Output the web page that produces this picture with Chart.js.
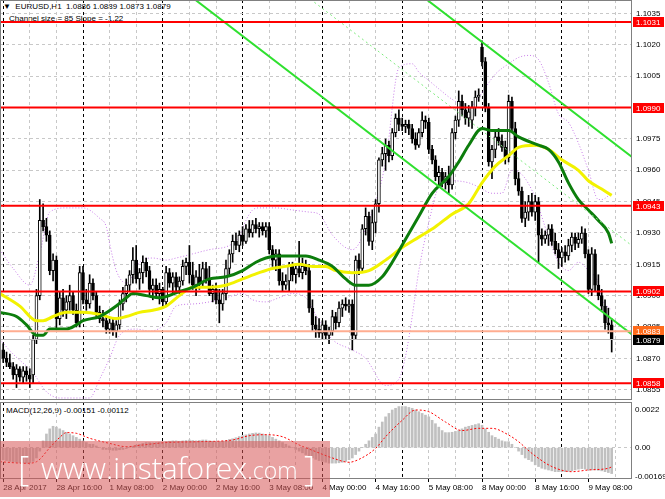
<!DOCTYPE html>
<html><head><meta charset="utf-8">
<script src="https://cdn.jsdelivr.net/npm/chart.js@4.4.1/dist/chart.umd.min.js"></script>
<style>
html,body{margin:0;padding:0;background:#fff;}
body{width:665px;height:499px;position:relative;overflow:hidden;font-family:'Liberation Sans',Arial,sans-serif;}
canvas{position:absolute;left:0;z-index:2;}
#cMain{top:0;}
#cMacd{top:402px;}
.txt{position:absolute;font-size:8px;line-height:8px;color:#000;white-space:nowrap;z-index:1;}
#wm{position:absolute;left:0;top:441px;width:330px;height:56px;background:rgba(215,85,85,0.55);z-index:3;color:#fff;font-family:'Open Sans',sans-serif;font-weight:300;}
#wm span{position:absolute;white-space:nowrap;line-height:normal;}
</style></head>
<body>
<div class="txt" style="left:3px;top:3px;">&#9660;&nbsp; EURUSD,H1&nbsp; 1.0886 1.0889 1.0873 1.0879</div>
<div class="txt" style="left:9px;top:15px;">Channel size = 85 Slope = -1.22</div>
<div class="txt" style="left:6px;top:407px;">MACD(12,26,9) -0.00151 -0.00112</div>
<canvas id="cMain" width="665" height="400"></canvas>
<canvas id="cMacd" width="665" height="96"></canvas>
<div id="wm">
  <span style="left:18px;top:3px;font-size:35px;">[</span>
  <span style="left:41px;top:6px;font-size:30px;">www.instaforex<span style="position:static;font-size:23px;">.com</span></span>
  <span style="left:304px;top:3px;font-size:35px;">]</span>
</div>
<script>
// ---------- DATA ----------
const opens = [1.0874,1.0870,1.0868,1.0866,1.0862,1.0865,1.0861,1.0864,1.0862,1.0862,
1.0879,1.0900,1.0936,1.0933,1.0929,1.0912,1.0917,1.0889,1.0899,1.0893,
1.0897,1.0900,1.0893,1.0887,1.0911,1.0898,1.0896,1.0906,1.0900,1.0892,
1.0889,1.0888,1.0884,1.0887,1.0883,1.0886,1.0896,1.0901,1.0905,1.0910,
1.0917,1.0908,1.0911,1.0916,1.0912,1.0903,1.0905,1.0901,1.0903,1.0897,
1.0911,1.0906,1.0909,1.0904,1.0907,1.0914,1.0916,1.0910,1.0905,1.0909,
1.0906,1.0913,1.0908,1.0901,1.0903,1.0898,1.0896,1.0901,1.0913,1.0920,
1.0926,1.0924,1.0929,1.0926,1.0932,1.0930,1.0934,1.0932,1.0933,1.0931,
1.0933,1.0922,1.0917,1.0920,1.0907,1.0905,1.0907,1.0914,1.0910,1.0913,
1.0911,1.0914,1.0912,1.0894,1.0886,1.0884,1.0882,1.0886,1.0881,1.0883,
1.0890,1.0887,1.0894,1.0896,1.0895,1.0896,1.0881,1.0917,1.0913,1.0932,
1.0938,1.0926,1.0935,1.0944,1.0965,1.0968,1.0972,1.0967,1.0978,1.0985,
1.0982,1.0981,1.0982,1.0980,1.0975,1.0972,1.0978,1.0984,1.0983,1.0970,
1.0965,1.0957,1.0959,1.0954,1.0957,1.0953,1.0978,1.0984,1.0993,1.0989,
1.0985,1.0984,1.0990,1.0995,1.1019,1.1012,1.0990,1.0964,1.0970,1.0976,
1.0974,1.0971,1.0966,1.0993,1.0980,1.0956,1.0950,1.0937,1.0940,1.0945,
1.0940,1.0945,1.0929,1.0927,1.0929,1.0932,1.0926,1.0922,1.0918,1.0921,
1.0919,1.0924,1.0928,1.0925,1.0927,1.0930,1.0920,1.0903,1.0920,1.0905,
1.0900,1.0895,1.0887,1.0886];
const highs = [1.0877,1.0873,1.0872,1.0868,1.0867,1.0866,1.0866,1.0866,1.0865,1.0881,
1.0903,1.0946,1.0944,1.0937,1.0931,1.0920,1.0919,1.0902,1.0903,1.0900,
1.0905,1.0902,1.0896,1.0914,1.0914,1.0903,1.0910,1.0908,1.0902,1.0895,
1.0893,1.0890,1.0889,1.0889,1.0888,1.0898,1.0904,1.0908,1.0912,1.0923,
1.0924,1.0913,1.0919,1.0918,1.0914,1.0908,1.0908,1.0906,1.0904,1.0914,
1.0913,1.0911,1.0911,1.0909,1.0917,1.0918,1.0924,1.0916,1.0912,1.0915,
1.0916,1.0916,1.0914,1.0905,1.0906,1.0903,1.0903,1.0917,1.0922,1.0929,
1.0930,1.0931,1.0933,1.0934,1.0936,1.0936,1.0937,1.0935,1.0935,1.0935,
1.0935,1.0924,1.0922,1.0922,1.0911,1.0910,1.0916,1.0916,1.0915,1.0926,
1.0918,1.0917,1.0915,1.0898,1.0890,1.0889,1.0888,1.0888,1.0885,1.0893,
1.0892,1.0897,1.0898,1.0899,1.0898,1.0898,1.0919,1.0920,1.0934,1.0942,
1.0940,1.0941,1.0946,1.0966,1.0971,1.0975,1.0974,1.0980,1.0987,1.0989,
1.0985,1.0984,1.0984,1.0982,1.0978,1.0980,1.0988,1.0986,1.0985,1.0972,
1.0967,1.0962,1.0961,1.0959,1.0962,1.0980,1.0986,1.0998,1.0996,1.0992,
1.0991,1.0993,1.0998,1.0999,1.1022,1.1014,1.0992,1.0972,1.0979,1.0980,
1.0977,1.0974,1.0996,1.0995,1.0983,1.0959,1.0952,1.0945,1.0948,1.0949,
1.0948,1.0947,1.0932,1.0931,1.0934,1.0934,1.0930,1.0925,1.0923,1.0924,
1.0927,1.0930,1.0930,1.0930,1.0933,1.0932,1.0922,1.0923,1.0922,1.0910,
1.0903,1.0898,1.0894,1.0889];
const lows = [1.0868,1.0866,1.0865,1.0860,1.0856,1.0859,1.0858,1.0859,1.0856,1.0858,
1.0877,1.0898,1.0931,1.0926,1.0910,1.0907,1.0884,1.0886,1.0890,1.0889,
1.0893,1.0891,1.0885,1.0885,1.0896,1.0893,1.0894,1.0898,1.0890,1.0887,
1.0885,1.0882,1.0882,1.0881,1.0880,1.0884,1.0893,1.0897,1.0902,1.0906,
1.0906,1.0903,1.0906,1.0909,1.0900,1.0898,1.0899,1.0896,1.0894,1.0895,
1.0904,1.0901,1.0902,1.0901,1.0905,1.0910,1.0906,1.0903,1.0900,1.0903,
1.0904,1.0906,1.0900,1.0897,1.0896,1.0887,1.0893,1.0898,1.0910,1.0916,
1.0922,1.0921,1.0924,1.0925,1.0928,1.0928,1.0930,1.0928,1.0929,1.0928,
1.0920,1.0914,1.0912,1.0905,1.0902,1.0903,1.0902,1.0907,1.0906,1.0909,
1.0908,1.0910,1.0892,1.0883,1.0880,1.0880,1.0879,1.0879,1.0877,1.0881,
1.0884,1.0885,1.0890,1.0893,1.0892,1.0874,1.0879,1.0910,1.0911,1.0929,
1.0924,1.0922,1.0930,1.0940,1.0962,1.0960,1.0964,1.0965,1.0976,1.0979,
1.0979,1.0978,1.0977,1.0973,1.0970,1.0971,1.0976,1.0980,1.0968,1.0963,
1.0955,1.0953,1.0952,1.0951,1.0949,1.0951,1.0975,1.0981,1.0986,1.0982,
1.0981,1.0980,1.0986,1.0993,1.1010,1.0988,1.0962,1.0956,1.0966,1.0972,
1.0969,1.0963,1.0964,1.0978,1.0953,1.0948,1.0935,1.0933,1.0936,1.0938,
1.0936,1.0916,1.0924,1.0925,1.0924,1.0924,1.0920,1.0913,1.0914,1.0916,
1.0917,1.0921,1.0922,1.0923,1.0925,1.0918,1.0901,1.0900,1.0902,1.0898,
1.0893,1.0884,1.0882,1.0873];
const closes = [1.0870,1.0868,1.0866,1.0862,1.0865,1.0861,1.0864,1.0862,1.0860,1.0879,
1.0900,1.0936,1.0933,1.0929,1.0912,1.0917,1.0889,1.0899,1.0893,1.0897,
1.0900,1.0893,1.0887,1.0911,1.0898,1.0896,1.0906,1.0900,1.0892,1.0889,
1.0888,1.0884,1.0887,1.0883,1.0886,1.0896,1.0901,1.0905,1.0910,1.0917,
1.0908,1.0911,1.0916,1.0912,1.0903,1.0905,1.0901,1.0903,1.0897,1.0911,
1.0906,1.0909,1.0904,1.0907,1.0914,1.0916,1.0910,1.0905,1.0909,1.0906,
1.0913,1.0908,1.0901,1.0903,1.0898,1.0896,1.0901,1.0913,1.0920,1.0926,
1.0924,1.0929,1.0926,1.0932,1.0930,1.0934,1.0932,1.0933,1.0931,1.0933,
1.0922,1.0917,1.0920,1.0907,1.0905,1.0907,1.0914,1.0910,1.0913,1.0911,
1.0914,1.0912,1.0894,1.0886,1.0884,1.0882,1.0886,1.0881,1.0883,1.0890,
1.0887,1.0894,1.0896,1.0895,1.0896,1.0881,1.0917,1.0913,1.0932,1.0938,
1.0926,1.0935,1.0944,1.0965,1.0968,1.0972,1.0967,1.0978,1.0985,1.0982,
1.0981,1.0982,1.0980,1.0975,1.0972,1.0978,1.0984,1.0983,1.0970,1.0965,
1.0957,1.0959,1.0954,1.0957,1.0953,1.0978,1.0984,1.0993,1.0989,1.0985,
1.0988,1.0990,1.0995,1.0996,1.1012,1.0990,1.0964,1.0970,1.0976,1.0974,
1.0971,1.0966,1.0993,1.0980,1.0956,1.0950,1.0937,1.0940,1.0945,1.0940,
1.0945,1.0929,1.0927,1.0929,1.0932,1.0926,1.0922,1.0918,1.0921,1.0919,
1.0924,1.0928,1.0925,1.0927,1.0930,1.0920,1.0903,1.0920,1.0905,1.0900,
1.0895,1.0887,1.0886,1.0879];

// moving averages and bands: [bar index, price] samples
const greenMA = [[-1,1.0892],[4,1.0890],[7,1.0886],[10,1.0881],[12,1.0881],[14,1.0884],[19,1.0884],[22,1.0886],[24,1.0888],[29,1.0890],[34,1.0895],[37,1.0899],[39,1.0901],[43,1.0900],[47,1.0899],[53,1.0902],[57,1.0904],[62,1.0908],[67,1.0909],[72,1.0912],[76,1.0916],[79,1.0918],[82,1.0919],[87,1.0919],[91,1.0919],[95,1.0917],[99,1.0914],[103,1.0908],[106,1.0905],[110,1.0905],[114,1.0909],[117,1.0916],[121,1.0927],[125,1.0938],[129,1.0949],[134,1.0957],[137,1.0964],[140,1.0972],[144,1.0980],[147,1.0979],[152,1.0979],[155,1.0976],[161,1.0972],[164,1.0970],[167,1.0964],[170,1.0954],[173,1.0946],[176,1.0941],[179,1.0936],[182,1.0930],[183,1.0925]];
const yellowMA = [[-1,1.0901],[5,1.0895],[10,1.0888],[12,1.0888],[15,1.0890],[19,1.0892],[24,1.0892],[29,1.0891],[34,1.0889],[37,1.0890],[41,1.0892],[45,1.0893],[49,1.0895],[53,1.0900],[57,1.0904],[62,1.0904],[67,1.0905],[72,1.0908],[77,1.0911],[81,1.0913],[85,1.0914],[89,1.0915],[93,1.0914],[97,1.0914],[100,1.0912],[105,1.0911],[110,1.0912],[115,1.0917],[120,1.0923],[125,1.0928],[130,1.0933],[135,1.0939],[140,1.0944],[144,1.0954],[148,1.0962],[152,1.0967],[155,1.0971],[160,1.0972],[164,1.0970],[168,1.0965],[173,1.0960],[176,1.0955],[180,1.0951],[183,1.0948]];
const upperBand = [[-1,1.0922],[3,1.0913],[8,1.0905],[11,1.0920],[14,1.0940],[19,1.0942],[24,1.0942],[29,1.0937],[31,1.0933],[32,1.0925],[34,1.0912],[37,1.0906],[41,1.0916],[45,1.0918],[49,1.0917],[52,1.0918],[57,1.0920],[62,1.0922],[68,1.0924],[71,1.0928],[73,1.0936],[75,1.0941],[77,1.0942],[82,1.0942],[87,1.0941],[92,1.0940],[95,1.0939],[99,1.0929],[105,1.0922],[110,1.0936],[115,1.0964],[119,1.1009],[123,1.1011],[125,1.1007],[128,1.1003],[131,1.0999],[135,1.0994],[140,1.0990],[143,1.0995],[148,1.1006],[152,1.1011],[155,1.1014],[158,1.1015],[161,1.1013],[164,1.1002],[167,1.0987],[170,1.0983],[173,1.0973],[176,1.0960],[179,1.0946],[180,1.0946],[183,1.0949]];
const lowerBand = [[-1,1.0879],[3,1.0872],[9,1.0863],[13,1.0854],[17,1.0851],[23,1.0851],[26,1.0851],[29,1.0860],[32,1.0870],[35,1.0881],[40,1.0884],[44,1.0883],[49,1.0887],[52,1.0895],[57,1.0896],[62,1.0897],[67,1.0899],[72,1.0901],[75,1.0898],[79,1.0897],[83,1.0899],[87,1.0901],[91,1.0899],[95,1.0888],[99,1.0879],[105,1.0874],[109,1.0870],[115,1.0857],[119,1.0860],[121,1.0871],[123,1.0890],[125,1.0912],[128,1.0935],[131,1.0952],[135,1.0955],[140,1.0954],[143,1.0952],[147,1.0949],[150,1.0949],[153,1.0960],[156,1.0958],[160,1.0947],[164,1.0928],[167,1.0916],[170,1.0912],[173,1.0916],[176,1.0912],[179,1.0906],[180,1.0899],[183,1.0893]];

// channel (size 85 pips, slope -1.22 pips/bar): [bar, price] end points
const channelUpper = [[120,1.10507],[189.2,1.09663]];
const channelLower = [[50,1.10511],[189.2,1.08813]];
const channelMid   = [[90,1.10448],[189.2,1.09238]];

// horizontal levels
const redLevels = [1.1031, 1.0990, 1.0943, 1.0902, 1.0858];
const askLevel = 1.0883;
const bidLevel = 1.0879;

// MACD histogram per bar and signal samples [bar, value]
const macdHist = [-0.00070,-0.00075,-0.00080,-0.00083,-0.00085,-0.00088,-0.00090,-0.00090,-0.00088,-0.00080,-0.00060,
-0.00020,0.00040,0.00080,0.00110,0.00125,0.00120,0.00110,0.00100,0.00090,0.00080,0.00070,0.00060,0.00050,
0.00040,0.00030,0.00020,0.00020,0.00010,0.00000,-0.00010,-0.00010,
-0.00012,-0.00015,-0.00015,-0.00012,-0.00010,-0.00005,0.00000,0.00008,
0.00015,0.00020,0.00025,0.00030,0.00030,0.00028,0.00030,0.00032,0.00030,0.00035,0.00038,0.00040,0.00040,0.00038,0.00040,0.00042,0.00045,0.00042,0.00040,0.00042,0.00045,0.00045,0.00040,0.00038,0.00035,0.00035,0.00038,0.00042,0.00048,0.00052,
0.00058,0.00065,0.00070,0.00075,0.00080,0.00084,0.00086,0.00085,0.00080,0.00075,0.00070,0.00060,0.00050,0.00040,0.00030,0.00020,0.00010,0.00000,-0.00010,-0.00020,-0.00030,-0.00040,-0.00050,-0.00060,-0.00068,-0.00075,-0.00080,
-0.00085,-0.00090,-0.00090,-0.00090,-0.00088,-0.00085,-0.00080,-0.00070,-0.00060,-0.00040,-0.00020,0.00000,0.00020,0.00040,0.00060,0.00080,
0.00120,0.00150,0.00180,0.00200,0.00220,0.00230,0.00240,0.00240,0.00240,0.00235,0.00230,0.00220,0.00210,0.00200,0.00190,0.00180,
0.00160,0.00140,0.00120,0.00100,0.00088,0.00088,0.00090,0.00095,0.00100,0.00110,0.00120,0.00125,0.00130,0.00135,0.00140,
0.00130,0.00110,0.00090,0.00070,0.00060,0.00050,0.00040,0.00035,0.00035,0.00020,0.00000,-0.00020,-0.00040,-0.00060,-0.00070,-0.00080,
-0.00100,-0.00110,-0.00120,-0.00125,-0.00130,-0.00135,-0.00140,-0.00140,-0.00140,-0.00140,-0.00138,-0.00135,-0.00130,-0.00125,-0.00122,-0.00125,-0.00130,-0.00130,-0.00130,-0.00132,-0.00135,-0.00140,-0.00145,-0.00151];
const macdSignal = [[-1,-0.00082],[7,-0.00091],[10,-0.00082],[14,0.00000],[17,0.00060],[19,0.00088],[22,0.00084],[26,0.00055],[32,0.00025],[37,0.00006],[42,0.00016],[49,0.00030],[59,0.00035],[69,0.00045],[74,0.00070],[79,0.00076],[84,0.00064],[89,0.00016],[94,-0.00023],[99,-0.00060],[104,-0.00085],[107,-0.00068],[112,-0.00004],[115,0.00064],[120,0.00160],[124,0.00220],[128,0.00210],[133,0.00150],[138,0.00100],[143,0.00113],[147,0.00113],[152,0.00074],[155,0.00035],[159,-0.00033],[165,-0.00110],[171,-0.00140],[176,-0.00130],[182,-0.00120],[183,-0.00112]];

// axis ticks and labels
const priceTicks = [1.0855,1.0870,1.0885,1.0900,1.0915,1.0930,1.0945,1.0960,1.0975,1.0990,1.1005,1.1020,1.1035];
const gridBars = [0,8,16,24,32,40,48,56,64,72,80,88,96,104,112,120,128,136,144,152,160,168,176,184];
const labelBars = [0,16,32,48,64,80,96,112,128,144,160,176];
const timeLabels = ['28 Apr 2017','28 Apr 16:00','1 May 08:00','2 May 00:00','2 May 16:00','3 May 08:00','4 May 00:00','4 May 16:00','5 May 08:00','8 May 00:00','8 May 16:00','9 May 08:00'];
const dayStartBars = [0,24,48,72,96,120,144,168];
const macdTicks = [-0.00169, 0, 0.0022];
const macdTickLabels = ['-0.00169','0.00','0.0022'];

// ---------- CHART ----------
const X_MIN = -0.962, X_MAX = 189.11;
const P_MIN = 1.085004, P_MAX = 1.104152;
const M_MIN = -0.001827, M_MAX = 0.002667;
const FONT = {family:"'Liberation Sans', Arial, sans-serif", size:8};
const bars = closes.map((c, i) => i);
const pts = arr => arr.map(([b, v]) => ({x:b, y:v}));

const framePlugin = {id:'frame', afterDraw(chart){
  const a = chart.chartArea, ctx = chart.ctx;
  ctx.save(); ctx.strokeStyle = '#808080'; ctx.lineWidth = 1;
  ctx.strokeRect(a.left + 0.5, a.top + 0.5, a.right - a.left - 1, a.bottom - a.top - 1);
  ctx.restore();
}};
const levelPlugin = {id:'levelBoxes', afterDraw(chart){
  const ys = chart.scales.y, ctx = chart.ctx, r = chart.chartArea.right;
  const box = (v, bg) => {
    const py = Math.round(ys.getPixelForValue(v));
    ctx.fillStyle = bg; ctx.fillRect(r + 1, py - 5, 31, 10);
    ctx.fillStyle = '#ffffff'; ctx.font = "8px 'Liberation Sans', Arial, sans-serif";
    ctx.textBaseline = 'middle'; ctx.textAlign = 'left';
    ctx.fillText(v.toFixed(4), r + 4, py + 0.5);
  };
  ctx.save();
  redLevels.forEach(v => box(v, '#ff0000'));
  box(askLevel, '#ff6a1a');
  box(bidLevel, '#000000');
  ctx.restore();
}};

const noPadY = s => { s.width = 33; s.paddingTop = 0; s.paddingBottom = 0; };

const xScale = (extra) => Object.assign({
  type:'linear', min:X_MIN, max:X_MAX, offset:false,
  afterBuildTicks: s => { s.ticks = gridBars.map(v => ({value:v})); },
  grid: {offset:false, drawTicks:false, lineWidth:1,
    color: c => (c.tick && dayStartBars.includes(c.tick.value)) ? '#000000' : '#c8c8c8'},
  border: {display:false, dash:[3,3]},
  ticks: {display:false}
}, extra);

const lineDs = (data, color, width, order, dash) => ({
  type:'line', data: data, borderColor: color, borderWidth: width, pointRadius:0,
  borderDash: dash || [], cubicInterpolationMode:'monotone', fill:false, order: order
});

const mainDatasets = [
  lineDs(pts(upperBand), '#c77be8', 1, 20, [1,2]),
  lineDs(pts(lowerBand), '#c77be8', 1, 20, [1,2]),
  {type:'bar', data: bars.map(i => ({x:i, y:[lows[i], highs[i]]})), backgroundColor:'#000000',
    barThickness:1, grouped:false, order:12},
  {type:'bar', data: bars.map(i => ({x:i, y:[opens[i], closes[i]]})),
    backgroundColor: bars.map(i => closes[i] >= opens[i] ? '#ffffff' : '#000000'),
    borderColor:'#000000', borderWidth:1, borderSkipped:false, minBarLength:1,
    barThickness:3, grouped:false, order:11},
  lineDs(pts(greenMA), '#0c7d0c', 3, 8),
  lineDs(pts(yellowMA), '#f2f200', 3, 9),
  lineDs(pts(channelMid), '#7eea7e', 1, 6, [2,3]),
  lineDs(pts(channelUpper), '#2fe02f', 2, 6),
  lineDs(pts(channelLower), '#2fe02f', 2, 6),
  ...redLevels.map(v => lineDs([{x:X_MIN, y:v}, {x:X_MAX, y:v}], '#ff0000', 2, 4)),
  lineDs([{x:X_MIN, y:askLevel}, {x:X_MAX, y:askLevel}], '#ffad90', 2, 3),
  lineDs([{x:X_MIN, y:bidLevel}, {x:X_MAX, y:bidLevel}], '#b8b8b8', 1, 3)
];

new Chart(document.getElementById('cMain'), {
  type:'bar',
  data:{datasets: mainDatasets},
  options:{
    responsive:false, animation:false, devicePixelRatio:1, events:[],
    layout:{padding:0},
    plugins:{legend:{display:false}, tooltip:{enabled:false}},
    scales:{
      x: xScale({afterFit: s => { s.height = 0; s.paddingLeft = 0; s.paddingRight = 0; }}),
      y: {type:'linear', position:'right', min:P_MIN, max:P_MAX,
        afterBuildTicks: s => { s.ticks = priceTicks.map(v => ({value:v})); },
        afterFit: noPadY,
        grid:{color:'#c8c8c8', drawTicks:false},
        border:{display:false, dash:[3,3]},
        ticks:{callback: v => v.toFixed(4), font:FONT, color:'#000000', padding:4, autoSkip:false}}
    }
  },
  plugins:[framePlugin, levelPlugin]
});

new Chart(document.getElementById('cMacd'), {
  type:'bar',
  data:{datasets:[
    {type:'bar', data: macdHist.map((v, i) => ({x:i, y:v})), backgroundColor:'#c0c0c0',
      barThickness:2, grouped:false, order:5},
    lineDs(pts(macdSignal), '#ff0000', 1, 3, [2,2])
  ]},
  options:{
    responsive:false, animation:false, devicePixelRatio:1, events:[],
    layout:{padding:0},
    plugins:{legend:{display:false}, tooltip:{enabled:false}},
    scales:{
      x: xScale({
        afterFit: s => { s.height = 19; s.paddingLeft = 0; s.paddingRight = 0; },
        grid:{offset:false, drawTicks:true, tickLength:3, lineWidth:1,
          color: c => (c.tick && dayStartBars.includes(c.tick.value)) ? '#000000' : '#c8c8c8',
          tickColor: c => (c.tick && labelBars.includes(c.tick.value)) ? '#000000' : 'rgba(0,0,0,0)'},
        ticks:{display:true, autoSkip:false, maxRotation:0, minRotation:0, align:'start', padding:1,
          font:FONT, color:'#000000',
          callback: v => { const k = labelBars.indexOf(v); return k >= 0 ? timeLabels[k] : ''; }}
      }),
      y: {type:'linear', position:'right', min:M_MIN, max:M_MAX,
        afterBuildTicks: s => { s.ticks = macdTicks.map(v => ({value:v})); },
        afterFit: noPadY,
        grid:{color: c => (c.tick && c.tick.value === 0) ? '#c8c8c8' : 'rgba(0,0,0,0)', drawTicks:false},
        border:{display:false, dash:[3,3]},
        ticks:{callback: (v, i) => macdTickLabels[macdTicks.indexOf(v)], font:FONT, color:'#000000', padding:3, autoSkip:false}}
    }
  },
  plugins:[framePlugin]
});
</script>
</body></html>
